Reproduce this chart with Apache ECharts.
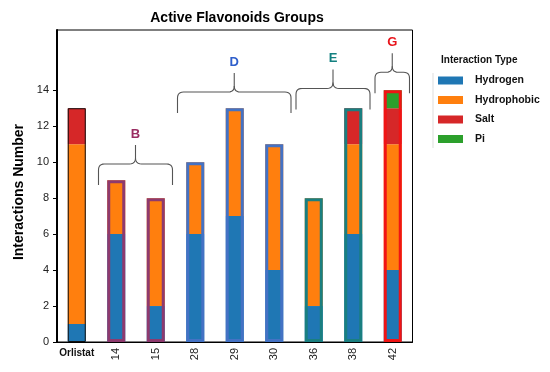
<!DOCTYPE html>
<html><head><meta charset="utf-8">
<script src="https://cdn.jsdelivr.net/npm/echarts@6/dist/echarts.min.js"></script>
<style>html,body{margin:0;padding:0;background:#fff}#c{width:550px;height:372px}</style>
</head><body><div id="c"></div>
<script>
const categories = ['Orlistat','14','15','28','29','30','36','38','42'];
const hydrogen    = [1, 6, 2, 6, 7, 4, 2, 6, 4];
const hydrophobic = [10, 3, 6, 4, 6, 7, 6, 5, 7];
const salt        = [2, 0, 0, 0, 0, 0, 0, 2, 2];
const pi          = [0, 0, 0, 0, 0, 0, 0, 0, 1];
const yTicks = [0, 2, 4, 6, 8, 10, 12, 14];
const groups = [
  {label:'B', color:'#9A2D62', border:'#8E3A6E', from:1, to:2, level:9.9},
  {label:'D', color:'#2F5FCB', border:'#4472C4', from:3, to:5, level:13.9},
  {label:'E', color:'#138080', border:'#1A7F80', from:6, to:7, level:14.1},
  {label:'G', color:'#E8141B', border:'#F01414', from:8, to:8, level:15.0}
];
const FONT = 'Liberation Sans, Arial, sans-serif';
const totals = categories.map((c,i)=>hydrogen[i]+hydrophobic[i]+salt[i]+pi[i]);
const borderColors = categories.map((c,i)=>{
  const g = groups.find(g=>i>=g.from && i<=g.to); return g ? g.border : '#111';
});
const borderWidths = categories.map((c,i)=> groups.find(g=>i>=g.from && i<=g.to) ? 3 : 1);

const chart = echarts.init(document.getElementById('c'), null, {renderer:'canvas'});
const stackSeries = (name, data, color) => ({
  name, type:'bar', stack:'a', data, barWidth:18, itemStyle:{color}, z:2
});
chart.setOption({
  animation:false,
  textStyle:{fontFamily:FONT},
  title:[
    {text:'Active Flavonoids Groups', left:232, top:6, textAlign:'center',
     textStyle:{fontFamily:FONT, fontSize:14, fontWeight:'bold', color:'#000'}},
    {text:'Interaction Type', left:436, top:50,
     textStyle:{fontFamily:FONT, fontSize:10, fontWeight:'bold', color:'#111'}}
  ],
  legend:{
    orient:'vertical', left:433, top:70, icon:'rect', itemWidth:25, itemHeight:8, itemGap:8.5,
    data:['Hydrogen','Hydrophobic','Salt','Pi'],
    textStyle:{fontFamily:FONT, fontSize:10.5, fontWeight:'bold', color:'#111', padding:[0,0,0,7]}
  },
  grid:{left:57, right:137.5, top:30, bottom:30, show:true, borderColor:'#000', borderWidth:1, containLabel:false},
  xAxis:[
    {type:'category', data:categories, axisLine:{lineStyle:{color:'#000', width:1}},
     axisTick:{alignWithLabel:true, length:4, lineStyle:{color:'#000'}},
     axisLabel:{rotate:90, margin:6, fontSize:11, color:'#222', fontFamily:FONT,
       formatter:(v,i)=> i===0 ? '' : v}},
    {type:'category', data:categories, position:'bottom', axisLine:{show:false}, axisTick:{show:false},
     axisLabel:{margin:6, fontSize:10, fontWeight:'bold', color:'#111', fontFamily:FONT,
       formatter:(v,i)=> i===0 ? v : ''}}
  ],
  yAxis:{type:'value', min:0, max:17.35, interval:2,
    name:'Interactions Number', nameLocation:'middle', nameGap:30,
    nameTextStyle:{fontFamily:FONT, fontSize:14, fontWeight:'bold', color:'#000', padding:[0,12,0,0]},
    axisLine:{show:true, lineStyle:{color:'#000', width:2}},
    axisTick:{show:true, length:4, lineStyle:{color:'#000'}, customValues:yTicks},
    axisLabel:{fontSize:11, color:'#222', margin:8, fontFamily:FONT, customValues:yTicks},
    splitLine:{show:false}},
  series:[
    stackSeries('Hydrogen', hydrogen, '#1f77b4'),
    stackSeries('Hydrophobic', hydrophobic, '#ff7f0e'),
    stackSeries('Salt', salt, '#d62728'),
    stackSeries('Pi', pi, '#2ca02c'),
    {name:'outline', type:'bar', barGap:'-100%', barWidth:18, z:5, silent:true,
     data: totals.map((t,i)=>({value:t, itemStyle:{color:'rgba(0,0,0,0)', borderColor:borderColors[i], borderWidth:borderWidths[i]}}))}
  ]
});

// curly braces drawn from axis positions
function quad(p0, c, p1, n) {
  const pts = [];
  for (let k = 1; k <= n; k++) {
    const t = k / n, u = 1 - t;
    pts.push([u*u*p0[0] + 2*u*t*c[0] + t*t*p1[0], u*u*p0[1] + 2*u*t*c[1] + t*t*p1[1]]);
  }
  return pts;
}
const gfx = [];
const drop = 21, rise = 19, r = 6;
groups.forEach(g=>{
  const half = 19.75;
  const xl = chart.convertToPixel({xAxisIndex:0}, g.from) - half + 2;
  const xr = chart.convertToPixel({xAxisIndex:0}, g.to) + half - 3;
  const y = chart.convertToPixel({yAxisIndex:0}, g.level);
  const xm = (xl + xr) / 2;
  const left = [[xl, y+drop], [xl, y+r]]
    .concat(quad([xl, y+r], [xl, y], [xl+r, y], 6))
    .concat([[xm-r, y]])
    .concat(quad([xm-r, y], [xm, y], [xm, y-r], 6))
    .concat([[xm, y-rise]]);
  const right = [[xm, y-r]]
    .concat(quad([xm, y-r], [xm, y], [xm+r, y], 6))
    .concat([[xr-r, y]])
    .concat(quad([xr-r, y], [xr, y], [xr, y+r], 6))
    .concat([[xr, y+drop]]);
  [left, right].forEach(pts => gfx.push({type:'polyline', shape:{points:pts}, style:{fill:null, stroke:'#555', lineWidth:1.1}, z:10}));
  gfx.push({type:'text', x:xm, y:y-rise-11, style:{text:g.label, fill:g.color, font:'bold 13px '+FONT, textAlign:'center', textVerticalAlign:'middle'}, z:10});
});
gfx.push({type:'line', shape:{x1:433, y1:73, x2:433, y2:148}, style:{stroke:'#ddd', lineWidth:1}});
chart.setOption({graphic:gfx});
</script></body></html>
